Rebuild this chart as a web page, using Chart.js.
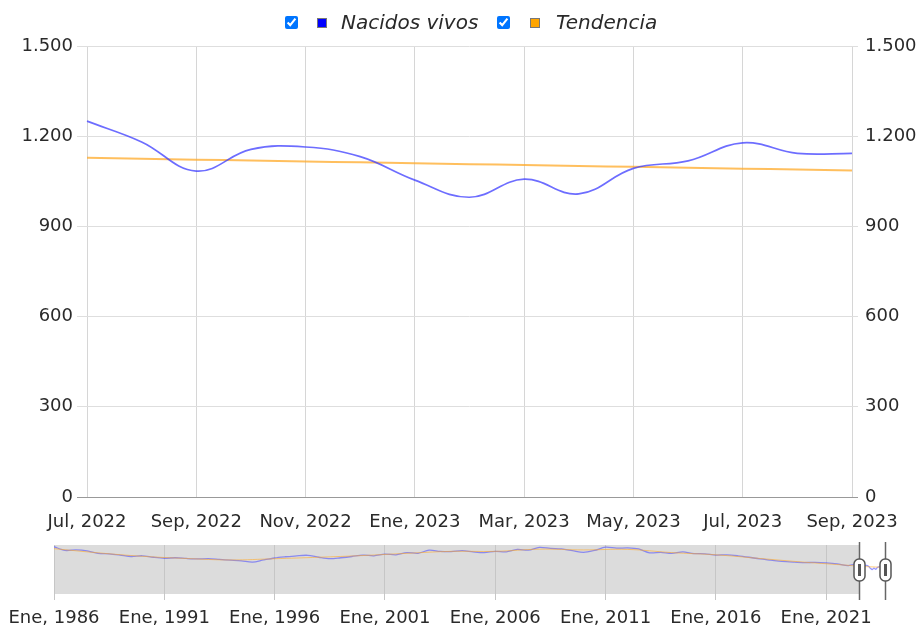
<!DOCTYPE html>
<html lang="es">
<head>
<meta charset="UTF-8">
<title>Nacidos vivos</title>
<script src="https://cdn.jsdelivr.net/npm/chart.js"></script>
<style>
    body {
        margin: 0;
        background: #fff;
        font-family: 'DejaVu Sans', Verdana, sans-serif;
    }
    #wrap {
        position: relative;
        width: 919px;
        height: 629px;
        overflow: hidden;
    }
    #mainChart {
        position: absolute;
        left: 0;
        top: 0;
    }
    #navChart {
        position: absolute;
        left: 0;
        top: 535px;
    }
    .leg {
        position: absolute;
        font-style: italic;
        font-size: 20px;
        color: #2a2a2a;
        top: 9px;
        line-height: 26px;
    }
    .cb {
        position: absolute;
        margin: 0;
        width: 13px;
        height: 13px;
        top: 16px;
    }
    .sq {
        position: absolute;
        width: 8px;
        height: 8px;
        top: 18px;
        border: 1px solid #777;
    }
</style>
</head>
<body>
<div id="wrap">
    <canvas id="mainChart" width="919" height="535"></canvas>
    <canvas id="navChart" width="919" height="94"></canvas>
    <input type="checkbox" class="cb" style="left:285px" checked>
    <span class="sq" style="left:317px;background:#0000ff"></span>
    <span class="leg" style="left:341px">Nacidos vivos</span>
    <input type="checkbox" class="cb" style="left:497px" checked>
    <span class="sq" style="left:530px;background:#ffa500"></span>
    <span class="leg" style="left:556px">Tendencia</span>
</div>

<script>
    // periodo visible (mensual)
    const mesesFechas = ['2022-07', '2022-08', '2022-09', '2022-10', '2022-11', '2022-12', '2023-01',
        '2023-02', '2023-03', '2023-04', '2023-05', '2023-06', '2023-07', '2023-08', '2023-09'];
    const mesesEtiquetas = ['Jul, 2022', 'Ago, 2022', 'Sep, 2022', 'Oct, 2022', 'Nov, 2022', 'Dic, 2022', 'Ene, 2023',
        'Feb, 2023', 'Mar, 2023', 'Abr, 2023', 'May, 2023', 'Jun, 2023', 'Jul, 2023', 'Ago, 2023', 'Sep, 2023'];
    const nacidosVivos = [1250, 1181, 1084, 1156, 1164, 1132, 1054, 997, 1057, 1008, 1093, 1118, 1178, 1143, 1143];
    const tendencia = [1128, 1125, 1122, 1119, 1116, 1113, 1110, 1107, 1104, 1101, 1098, 1095, 1092, 1089, 1086];

    const yTicks = [0, 300, 600, 900, 1200, 1500];

    // serie historica para el navegador (semestral, estimada)
    const histFechas = ['1986-01', '1986-07', '1987-01', '1987-07', '1988-01', '1988-07', '1989-01', '1989-07',
        '1990-01', '1990-07', '1991-01', '1991-07', '1992-01', '1992-07', '1993-01', '1993-07', '1994-01', '1994-07',
        '1995-01', '1995-07', '1996-01', '1996-07', '1997-01', '1997-07', '1998-01', '1998-07', '1999-01', '1999-07',
        '2000-01', '2000-07', '2001-01', '2001-07', '2002-01', '2002-07', '2003-01', '2003-07', '2004-01', '2004-07',
        '2005-01', '2005-07', '2006-01', '2006-07', '2007-01', '2007-07', '2008-01', '2008-07', '2009-01', '2009-07',
        '2010-01', '2010-07', '2011-01', '2011-07', '2012-01', '2012-07', '2013-01', '2013-07', '2014-01', '2014-07',
        '2015-01', '2015-07', '2016-01', '2016-07', '2017-01', '2017-07', '2018-01', '2018-07', '2019-01', '2019-07',
        '2020-01', '2020-07', '2021-01', '2021-07', '2022-01'];
    const histValores = [1930, 1780, 1800, 1760, 1660, 1640, 1590, 1530,
        1560, 1500, 1460, 1480, 1450, 1430, 1440, 1410, 1380, 1350,
        1300, 1390, 1470, 1520, 1560, 1580, 1500, 1440, 1480, 1530,
        1590, 1560, 1630, 1600, 1690, 1660, 1790, 1740, 1730, 1770,
        1720, 1690, 1740, 1720, 1820, 1790, 1900, 1860, 1840, 1770,
        1700, 1780, 1910, 1870, 1880, 1840, 1680, 1700, 1660, 1720,
        1650, 1640, 1590, 1600, 1560, 1500, 1430, 1380, 1330, 1300,
        1280, 1290, 1270, 1230, 1160];
    const histTendFechas = ['1986-01', '1988-01', '1990-01', '1992-01', '1994-01', '1996-01', '1998-01', '2000-01',
        '2002-01', '2004-01', '2006-01', '2008-01', '2010-01', '2012-01', '2014-01', '2016-01', '2018-01', '2020-01',
        '2022-01'];
    const histTendValores = [1850, 1680, 1540, 1450, 1390, 1440, 1500, 1570,
        1660, 1740, 1740, 1830, 1800, 1820, 1690, 1600, 1450, 1300, 1170];
    const navTickAnios = [1986, 1991, 1996, 2001, 2006, 2011, 2016, 2021];

    const fuente = { family: "'DejaVu Sans', Verdana, sans-serif", size: 18 };
    const gris = '#dcdcdc';

    const fmt = v => String(v).replace(/\B(?=(\d{3})+(?!\d))/g, '.');
    const anioDec = s => {
        const [a, m] = s.split('-').map(Number);
        return a + (m - 1) / 12;
    };

    const mainChart = new Chart(document.getElementById('mainChart'), {
        type: 'line',
        data: {
            labels: mesesEtiquetas,
            datasets: [{
                label: 'Nacidos vivos',
                data: nacidosVivos,
                borderColor: 'rgba(60,60,255,0.75)',
                borderWidth: 1.7,
                pointRadius: 0,
                tension: 0.4,
                yAxisID: 'y'
            }, {
                label: 'Tendencia',
                data: tendencia,
                borderColor: 'rgba(255,170,40,0.75)',
                borderWidth: 2,
                pointRadius: 0,
                tension: 0.4,
                yAxisID: 'y'
            }]
        },
        options: {
            responsive: false,
            animation: false,
            layout: { padding: { top: 46, left: 0, right: 0, bottom: 0 } },
            plugins: { legend: { display: false }, tooltip: { enabled: false } },
            scales: {
                x: {
                    ticks: {
                        autoSkip: false,
                        maxRotation: 0,
                        font: fuente,
                        color: '#2a2a2a',
                        padding: 15,
                        callback: (v, i) => i % 2 === 0 ? mesesEtiquetas[i] : ''
                    },
                    grid: {
                        drawTicks: false,
                        color: ctx => ctx.index % 2 === 0 ? '#d6d6d6' : 'transparent'
                    },
                    border: { color: '#999' },
                    afterFit: s => { s.height = 38; }
                },
                y: {
                    position: 'left',
                    min: 0,
                    max: 1500,
                    afterBuildTicks: s => { s.ticks = yTicks.map(v => ({ value: v })); },
                    ticks: { font: fuente, color: '#2a2a2a', padding: 4, callback: v => fmt(v) },
                    grid: {
                        tickLength: 10,
                        color: ctx => ctx.tick && ctx.tick.value === 0 ? '#999' : '#dedede'
                    },
                    border: { display: false },
                    afterFit: s => { s.width = 87; }
                },
                y2: {
                    position: 'right',
                    min: 0,
                    max: 1500,
                    afterBuildTicks: s => { s.ticks = yTicks.map(v => ({ value: v })); },
                    ticks: { font: fuente, color: '#2a2a2a', padding: 7, callback: v => fmt(v) },
                    grid: {
                        drawOnChartArea: false,
                        tickLength: 6,
                        tickColor: ctx => ctx.tick && ctx.tick.value === 0 ? '#999' : '#dedede'
                    },
                    border: { display: false },
                    afterFit: s => { s.width = 67; }
                }
            }
        }
    });

    // navegador inferior
    const navLinea = histFechas.map((f, i) => ({ x: anioDec(f), y: histValores[i] }))
        .concat(mesesFechas.map((f, i) => ({ x: anioDec(f), y: nacidosVivos[i] })));
    const navTend = histTendFechas.map((f, i) => ({ x: anioDec(f), y: histTendValores[i] }))
        .concat(mesesFechas.map((f, i) => ({ x: anioDec(f), y: tendencia[i] })));
    const selIni = anioDec(mesesFechas[0]);
    const selFin = anioDec(mesesFechas[mesesFechas.length - 1]);

    const navFondo = {
        id: 'navFondo',
        beforeDraw(chart) {
            const { ctx, chartArea: a, scales } = chart;
            const x1 = scales.x.getPixelForValue(selIni);
            const x2 = scales.x.getPixelForValue(selFin);
            ctx.save();
            ctx.fillStyle = gris;
            ctx.fillRect(a.left, a.top, a.right - a.left, a.bottom - a.top);
            ctx.fillStyle = '#fff';
            ctx.fillRect(x1, a.top, x2 - x1, a.bottom - a.top);
            ctx.restore();
        },
        afterDraw(chart) {
            const { ctx, chartArea: a, scales } = chart;
            const xs = [scales.x.getPixelForValue(selIni), scales.x.getPixelForValue(selFin)];
            ctx.save();
            xs.forEach(x => {
                x = Math.round(x) + 0.5;
                ctx.strokeStyle = '#666';
                ctx.lineWidth = 1.5;
                ctx.beginPath();
                ctx.moveTo(x, a.top - 3);
                ctx.lineTo(x, a.bottom + 6);
                ctx.stroke();
                const w = 11, h = 22, yc = a.top + 25;
                ctx.beginPath();
                ctx.roundRect(x - w / 2, yc - h / 2, w, h, 5);
                ctx.fillStyle = '#fff';
                ctx.fill();
                ctx.strokeStyle = '#555';
                ctx.lineWidth = 1.5;
                ctx.stroke();
                ctx.fillStyle = '#555';
                ctx.fillRect(x - 1.5, yc - 6, 3, 12);
            });
            ctx.restore();
        }
    };

    const navChart = new Chart(document.getElementById('navChart'), {
        type: 'line',
        data: {
            datasets: [{
                data: navTend,
                borderColor: 'rgba(255,170,40,0.6)',
                borderWidth: 1,
                pointRadius: 0,
                tension: 0.4
            }, {
                data: navLinea,
                borderColor: 'rgba(70,70,255,0.55)',
                borderWidth: 1.3,
                pointRadius: 0,
                tension: 0.3
            }]
        },
        options: {
            responsive: false,
            animation: false,
            layout: { padding: { top: 10, left: 54, right: 34, bottom: 0 } },
            plugins: { legend: { display: false }, tooltip: { enabled: false } },
            scales: {
                x: {
                    type: 'linear',
                    min: anioDec('1986-01'),
                    max: selFin,
                    afterBuildTicks: s => { s.ticks = navTickAnios.map(v => ({ value: v })); },
                    ticks: {
                        font: fuente,
                        color: '#2a2a2a',
                        padding: 8,
                        maxRotation: 0,
                        autoSkip: false,
                        callback: v => 'Ene, ' + v
                    },
                    grid: { color: '#c6c6c6', tickLength: 6 },
                    border: { display: false },
                    afterFit: s => { s.height = 35; }
                },
                y: { display: false, min: 0, max: 2000 }
            }
        },
        plugins: [navFondo]
    });
</script>
</body>
</html>
